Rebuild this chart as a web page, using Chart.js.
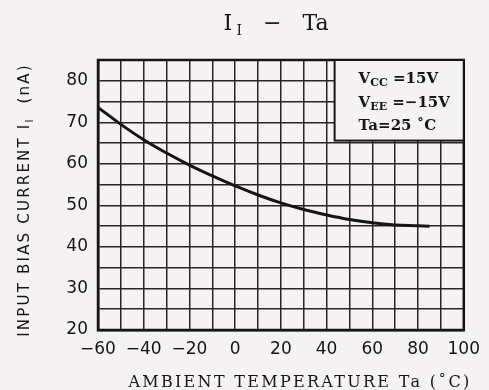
<!DOCTYPE html>
<html lang="en">
<head>
<meta charset="utf-8">
<script src="https://cdn.jsdelivr.net/npm/chart.js"></script>
<title>II - Ta</title>
<style>
  html, body { margin: 0; padding: 0; background: #f4f2f3; }
  #wrap { width: 489px; height: 390px; }
</style>
</head>
<body>
<div id="wrap"><canvas id="myChart" width="489" height="390"></canvas></div>
<script>
// values
const temps = [-60, -50, -40, -30, -20, -10, 0, 10, 20, 30, 40, 50, 60, 70, 80, 85];
const biasCurrent = [73.6, 69.5, 65.8, 62.6, 59.7, 57.1, 54.7, 52.5, 50.6, 49.0, 47.7, 46.6, 45.8, 45.3, 45.1, 45.0];
const xTickLabels = [-60, -40, -20, 0, 20, 40, 60, 80, 100];
const yTickLabels = [20, 30, 40, 50, 60, 70, 80];
const titleParts = [['I', false], [' I', true], ['   \u2212   Ta', false]];
const yTitleParts = [['INPUT BIAS CURRENT I', false], ['I', true], ['  (nA)', false]];
const xTitle = 'AMBIENT TEMPERATURE Ta (\u02DAC)';
const conditions = [
  [['V', false], ['CC', true], [' =15V', false]],
  [['V', false], ['EE', true], [' =\u221215V', false]],
  [['Ta=25 \u02DAC', false]]
];

const ink = '#161414';
const paper = '#f4f2f3';

function richWidth(ctx, parts, font, subFont) {
  let w = 0;
  parts.forEach(p => { ctx.font = p[1] ? subFont : font; w += ctx.measureText(p[0]).width; });
  return w;
}
function drawRich(ctx, parts, x, y, font, subFont, subDrop) {
  parts.forEach(p => {
    ctx.font = p[1] ? subFont : font;
    ctx.fillText(p[0], x, p[1] ? y + subDrop : y);
    x += ctx.measureText(p[0]).width;
  });
}

const decorations = {
  id: 'decorations',
  afterDraw(chart) {
    const ctx = chart.ctx;
    const a = chart.chartArea;
    ctx.save();
    ctx.fillStyle = ink;
    ctx.textBaseline = 'alphabetic';
    ctx.textAlign = 'left';

    // frame
    ctx.strokeStyle = ink;
    ctx.lineWidth = 2.5;
    ctx.strokeRect(a.left, a.top, a.right - a.left, a.bottom - a.top);

    // title
    let f = '22px "DejaVu Serif"', sf = '14px "DejaVu Serif"';
    let w = richWidth(ctx, titleParts, f, sf);
    drawRich(ctx, titleParts, 276 - w / 2, 30, f, sf, 5);

    // y title (rotated)
    ctx.save();
    ctx.translate(29, 200);
    ctx.rotate(-Math.PI / 2);
    ctx.letterSpacing = '2.2px';
    f = '15px "DejaVu Sans"'; sf = '10px "DejaVu Sans"';
    w = richWidth(ctx, yTitleParts, f, sf);
    drawRich(ctx, yTitleParts, -w / 2, 0, f, sf, 4);
    ctx.restore();

    // x title
    ctx.save();
    ctx.letterSpacing = '2.3px';
    ctx.font = '16px "DejaVu Serif"';
    w = ctx.measureText(xTitle).width;
    ctx.fillText(xTitle, 300 - w / 2, 387);
    ctx.restore();

    // conditions box in the upper right corner
    const bx = chart.scales.x.getPixelForValue(43.5);
    const by = chart.scales.y.getPixelForValue(65.6);
    ctx.fillStyle = paper;
    ctx.fillRect(bx, a.top, a.right - bx, by - a.top);
    ctx.lineWidth = 2;
    ctx.strokeRect(bx, a.top, a.right - bx, by - a.top);
    ctx.fillStyle = ink;
    f = 'bold 15px "DejaVu Serif"'; sf = 'bold 11px "DejaVu Serif"';
    conditions.forEach((line, i) => {
      drawRich(ctx, line, bx + 24, a.top + 23 + i * 23.5, f, sf, 3);
    });
    ctx.restore();
  }
};

const gridStyle = { color: '#2a2422', lineWidth: 1.5, drawTicks: false };

new Chart(document.getElementById('myChart'), {
  type: 'line',
  data: {
    datasets: [{
      data: temps.map((t, i) => ({ x: t, y: biasCurrent[i] })),
      borderColor: ink,
      borderWidth: 3,
      pointRadius: 0,
      tension: 0.4,
      fill: false
    }]
  },
  options: {
    responsive: false,
    animation: false,
    layout: { padding: { top: 60, right: 21, left: 0, bottom: 0 } },
    plugins: { legend: { display: false }, tooltip: { enabled: false } },
    scales: {
      x: {
        type: 'linear',
        min: -60,
        max: 100,
        grid: gridStyle,
        border: { display: true, color: ink, width: 2.5 },
        ticks: {
          stepSize: 10,
          autoSkip: false,
          maxRotation: 0,
          padding: 9,
          color: ink,
          font: { family: 'DejaVu Sans', size: 17 },
          callback: v => xTickLabels.includes(v) ? String(v).replace('-', '\u2212') : ''
        },
        afterFit: s => { s.height = 60; }
      },
      y: {
        min: 20,
        max: 85,
        grid: gridStyle,
        border: { display: true, color: ink, width: 2.5 },
        ticks: {
          stepSize: 5,
          autoSkip: false,
          padding: 10,
          color: ink,
          font: { family: 'DejaVu Sans', size: 17 },
          callback: v => yTickLabels.includes(v) ? String(v) : ''
        },
        afterFit: s => { s.width = 98; }
      }
    }
  },
  plugins: [decorations]
});
</script>
</body>
</html>
